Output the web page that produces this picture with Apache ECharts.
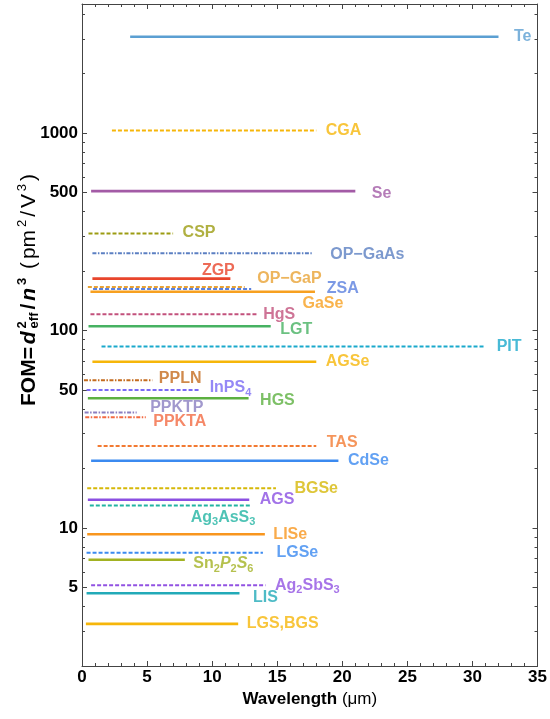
<!DOCTYPE html>
<html>
<head>
<meta charset="utf-8">
<script src="https://cdn.jsdelivr.net/npm/echarts@6/dist/echarts.min.js"></script>
<style>
  html, body { margin: 0; padding: 0; background: #fff; }
  #chart { width: 550px; height: 719px; }
</style>
</head>
<body>
<div id="chart"></div>
<script>
// Nonlinear crystals: transparency range (µm) and figure of merit FOM = d_eff^2 / n^3 (pm^2/V^3)
const crystals = ['Te', 'CGA', 'Se', 'CSP', 'OP-GaAs', 'ZGP', 'OP-GaP', 'ZSA', 'GaSe', 'HgS',
  'LGT', 'PIT', 'AGSe', 'PPLN', 'InPS4', 'HGS', 'PPKTP', 'PPKTA', 'TAS', 'CdSe',
  'BGSe', 'AGS', 'Ag3AsS3', 'LISe', 'LGSe', 'Sn2P2S6', 'Ag2SbS3', 'LIS', 'LGS,BGS'];
const rangeStart = [3.7, 2.3, 0.7, 0.5, 0.8, 0.8, 0.45, 0.85, 0.65, 0.65,
  0.5, 1.5, 0.8, 0.15, 0.35, 0.45, 0.2, 0.25, 1.2, 0.7,
  0.4, 0.45, 0.6, 0.4, 0.35, 0.5, 0.7, 0.35, 0.3];
const rangeEnd = [32, 18, 21, 7, 17.65, 11.4, 12.5, 13, 17.9, 13.5,
  14.5, 30.9, 18, 5.4, 9, 12.8, 4.2, 4.9, 18, 19.7,
  14.9, 12.85, 13, 14.05, 13.9, 7.9, 14.1, 12.1, 12];
const fom = [3070, 1030, 508, 310, 246, 183, 166, 162, 157, 121,
  105, 83, 69.5, 56, 50, 45.4, 38.4, 36.4, 26, 21.9,
  15.9, 13.9, 13, 9.3, 7.5, 6.9, 5.13, 4.67, 3.27];
// Label texts (rich-text markup: s = subscript, i = italic)
const labelText = ['Te', 'CGA', 'Se', 'CSP', 'OP\u2212GaAs', 'ZGP', 'OP\u2212GaP', 'ZSA', 'GaSe', 'HgS',
  'LGT', 'PIT', 'AGSe', 'PPLN', 'InPS{s|4}', 'HGS', 'PPKTP', 'PPKTA', 'TAS', 'CdSe',
  'BGSe', 'AGS', 'Ag{s|3}AsS{s|3}', 'LISe', 'LGSe', 'Sn{s|2}{i|P}{s|2}{i|S}{s|6}', 'Ag{s|2}SbS{s|3}', 'LIS', 'LGS,BGS'];
// Axis ticks
const xTicks = [0, 5, 10, 15, 20, 25, 30, 35];
const yMajorTicks = [5, 10, 50, 100, 500, 1000];
const yMinorTicks = [2, 3, 4, 6, 7, 8, 9, 20, 30, 40, 60, 70, 80, 90, 200, 300, 400, 600, 700, 800, 900, 2000, 3000, 4000];

// Per-crystal drawing style: colour, dash kind, label offset from the line end [dx, dy]
const styleOf = {
  'Te':      ['#5b9fd2', 'solid', 15, 0],
  'CGA':     ['#f6b60a', 'dash', 9, 0],
  'Se':      ['#a35ba6', 'solid', 16, 3],
  'CSP':     ['#9c9c12', 'dash', 9, -1],
  'OP-GaAs': ['#5b7fc2', 'dashdot', 18, 1],
  'ZGP':     ['#e8452c', 'solid', -29, -8],
  'OP-GaP':  ['#e8a234', 'dash', 12, -8],
  'ZSA':     ['#5a80de', 'dash', 75, -1],
  'GaSe':    ['#f7a020', 'solid', -13, 12],
  'HgS':     ['#c2517c', 'dash', 5, 0],
  'LGT':     ['#46b262', 'solid', 9, 3],
  'PIT':     ['#1aa9cc', 'dash', 12, 0],
  'AGSe':    ['#f6b60a', 'solid', 9, 0],
  'PPLN':    ['#c46b1e', 'dashdot', 6, -2],
  'InPS4':   ['#7a6af4', 'dash', 10, -2],
  'HGS':     ['#5cb040', 'solid', 11, 2],
  'PPKTP':   ['#8a7ec0', 'dashdot', 13, -5],
  'PPKTA':   ['#f26a42', 'dashdot', 7, 4],
  'TAS':     ['#f27a32', 'dash', 10, -3],
  'CdSe':    ['#3b8af0', 'solid', 9, 0],
  'BGSe':    ['#d6b808', 'dash', 18, 0],
  'AGS':     ['#8b50e2', 'solid', 10, 0],
  'Ag3AsS3': ['#22b4a2', 'dash', -61, 12],
  'LISe':    ['#f8961e', 'solid', 8, 0],
  'LGSe':    ['#3b8af0', 'dash', 13, 0],
  'Sn2P2S6': ['#a2b222', 'solid', 8, 4],
  'Ag2SbS3': ['#9152e2', 'dash', 9, 0],
  'LIS':     ['#22aab8', 'solid', 13, 4],
  'LGS,BGS': ['#f6b60a', 'solid', 8, 0]
};

const FONT = '"Liberation Sans", Arial, Helvetica, sans-serif';
const AXIS_COLOR = '#444';
const dashes = { dash: [4, 2], dashdot: [4, 1.5, 1.5, 1.5] };

const lineSeries = crystals.map((name, i) => {
  const st = styleOf[name];
  return {
    type: 'line',
    name: name,
    xAxisIndex: 0,
    yAxisIndex: 0,
    data: [[rangeStart[i], fom[i]], [rangeEnd[i], fom[i]]],
    symbol: 'none',
    silent: true,
    lineStyle: {
      color: st[0],
      width: st[1] === 'solid' ? 2.6 : 2,
      type: st[1] === 'solid' ? 'solid' : dashes[st[1]]
    },
    z: 2
  };
});

const labelSeries = {
  type: 'scatter',
  xAxisIndex: 0,
  yAxisIndex: 0,
  symbolSize: 1,
  silent: true,
  itemStyle: { color: 'rgba(0,0,0,0)' },
  z: 3,
  data: crystals.map((name, i) => {
    const st = styleOf[name];
    return {
      value: [rangeEnd[i], fom[i]],
      label: {
        show: true,
        position: 'right',
        distance: 0,
        offset: [st[2], st[3]],
        formatter: labelText[i],
        color: st[0],
        fontFamily: FONT,
        fontSize: 16,
        fontWeight: 'bold',
        rich: {
          s: { fontSize: 11, fontWeight: 'bold', fontFamily: FONT, color: st[0], padding: [10, 0, 0, 0] },
          i: { fontSize: 16, fontWeight: 'bold', fontStyle: 'italic', fontFamily: FONT, color: st[0] }
        }
      }
    };
  })
};

function yAxisDef(position, values, tickLen, showLine, showLabel) {
  return {
    type: 'log',
    logBase: 10,
    min: 2,
    max: 4500,
    position: position,
    axisLine: { show: showLine, onZero: false, lineStyle: { color: AXIS_COLOR, width: 1 } },
    axisTick: { show: true, inside: true, length: tickLen, customValues: values, lineStyle: { color: AXIS_COLOR, width: 1 } },
    axisLabel: {
      show: showLabel,
      customValues: values,
      formatter: v => String(Math.round(v)),
      color: '#000',
      fontFamily: FONT,
      fontSize: 17,
      fontWeight: 'bold',
      margin: 4
    },
    splitLine: { show: false },
    minorTick: { show: false },
    minorSplitLine: { show: false }
  };
}

function xAxisDef(position, showLabel) {
  return {
    type: 'value',
    min: 0,
    max: 35,
    interval: 5,
    position: position,
    axisLine: { show: true, onZero: false, lineStyle: { color: AXIS_COLOR, width: 1 } },
    axisTick: { show: true, inside: true, length: 5, lineStyle: { color: AXIS_COLOR, width: 1 } },
    minorTick: { show: true, splitNumber: 5, length: 3, lineStyle: { color: AXIS_COLOR, width: 1 } },
    axisLabel: {
      show: showLabel,
      customValues: xTicks,
      color: '#000',
      fontFamily: FONT,
      fontSize: 17,
      fontWeight: 'bold',
      margin: 3
    },
    splitLine: { show: false },
    minorSplitLine: { show: false },
    name: showLabel ? 'Wavelength {u|(\u03bcm)}' : '',
    nameLocation: 'middle',
    nameGap: 9,
    nameTextStyle: {
      color: '#000',
      fontFamily: FONT,
      fontSize: 17,
      fontWeight: 'bold',
      verticalAlign: 'top',
      rich: { u: { fontFamily: FONT, fontSize: 17, fontWeight: 'normal', color: '#000' } }
    }
  };
}

// Rotated y-axis title assembled from pieces so the superscript/subscript stack like typeset math
const measureCtx = document.createElement('canvas').getContext('2d');
function textWidth(t, size, weight, italic) {
  measureCtx.font = (italic ? 'italic ' : '') + weight + ' ' + size + 'px ' + FONT;
  return measureCtx.measureText(t).width;
}
const TS = 21, SS = 13, TITLE_LENGTH = 232;
const titlePieces = [
  { t: 'FOM=', size: TS, weight: 'bold' },
  { t: 'd', size: TS, weight: 'bold', italic: true },
  { stack: [{ t: '2', size: SS, weight: 'bold', dy: -7 }, { t: 'eff', size: SS, weight: 'bold', dy: 5 }] },
  { t: '/', size: TS, weight: 'bold' },
  { t: 'n', size: TS, weight: 'bold', italic: true },
  { t: '3', size: SS, weight: 'bold', dy: -7 },
  { t: ' (', size: TS, weight: 'normal' },
  { t: 'pm', size: TS, weight: 'normal' },
  { t: '2', size: SS, weight: 'normal', dy: -7 },
  { t: '/', size: TS, weight: 'normal' },
  { t: 'V', size: TS, weight: 'normal' },
  { t: '3', size: SS, weight: 'normal', dy: -7 },
  { t: ')', size: TS, weight: 'normal' }
];
function pieceWidth(p) {
  if (p.stack) return Math.max.apply(null, p.stack.map(q => textWidth(q.t, q.size, q.weight, q.italic)));
  return textWidth(p.t, p.size, p.weight, p.italic);
}
const naturalLength = titlePieces.reduce((s, p) => s + pieceWidth(p), 0);
const gap = Math.max(0, (TITLE_LENGTH - naturalLength) / (titlePieces.length - 1));
const titleChildren = [];
let cursor = 0;
function pushText(p, x) {
  titleChildren.push({
    type: 'text',
    x: x,
    y: p.dy || 0,
    style: {
      text: p.t,
      fill: '#000',
      fontFamily: FONT,
      fontSize: p.size,
      fontWeight: p.weight,
      fontStyle: p.italic ? 'italic' : 'normal',
      align: 'left',
      verticalAlign: 'middle'
    }
  });
}
titlePieces.forEach((p, k) => {
  if (p.stack) p.stack.forEach(q => pushText(q, cursor));
  else pushText(p, cursor);
  cursor += pieceWidth(p) + (k < titlePieces.length - 1 ? gap : 0);
});
titleChildren.forEach(c => { c.x -= cursor / 2; });

const chart = echarts.init(document.getElementById('chart'), null, { renderer: 'canvas' });
chart.setOption({
  animation: false,
  backgroundColor: '#fff',
  grid: { left: 82, right: 11, top: 4, bottom: 53, containLabel: false },
  xAxis: [xAxisDef('bottom', true), xAxisDef('top', false)],
  yAxis: [
    yAxisDef('left', yMajorTicks, 5, true, true),
    yAxisDef('left', yMinorTicks, 3, false, false),
    yAxisDef('right', yMajorTicks, 5, true, false),
    yAxisDef('right', yMinorTicks, 3, false, false)
  ],
  series: lineSeries.concat([labelSeries]),
  graphic: [{
    type: 'group',
    x: 29,
    y: 290,
    rotation: Math.PI / 2,
    children: titleChildren
  }]
});
</script>
</body>
</html>
